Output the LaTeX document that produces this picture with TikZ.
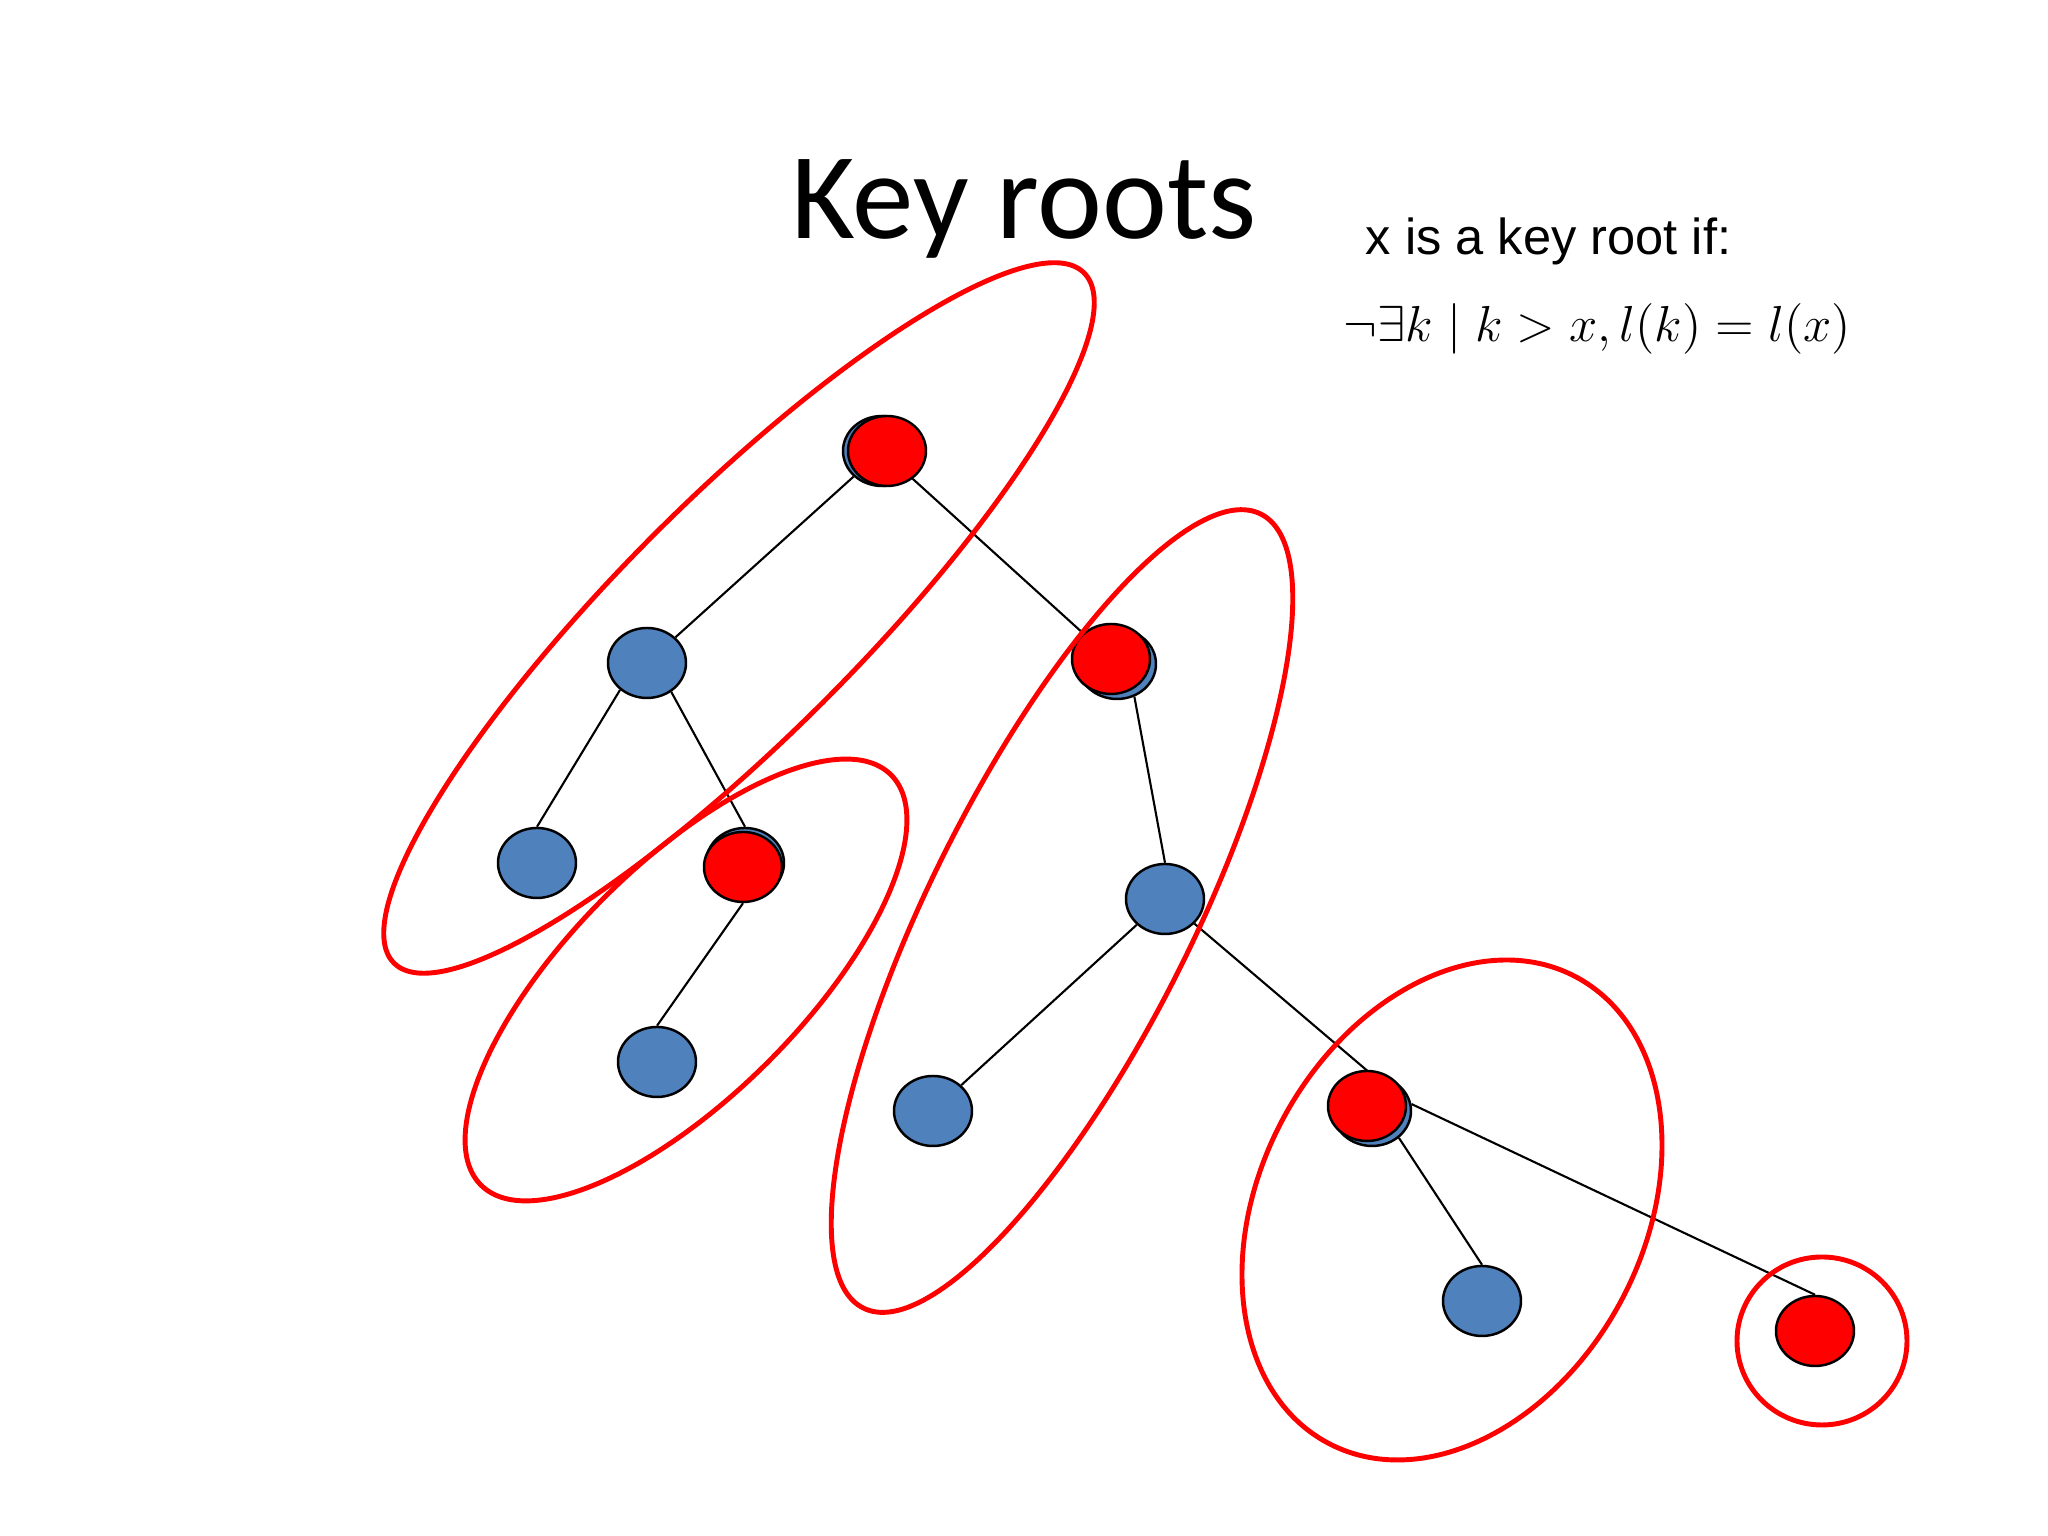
\documentclass[tikz,border=0pt]{standalone}
\usepackage{fontspec}
\newfontfamily\titlefont{Carlito}
\newfontfamily\notefont{Liberation Sans}
\usepackage{tikz}
\usetikzlibrary{shapes.geometric, backgrounds}
\definecolor{nodeblue}{RGB}{79,129,189}
\tikzset{
  bnode/.style={ellipse, draw=black, fill=nodeblue, line width=0.7pt, minimum width=0.78cm, minimum height=0.70cm, inner sep=0pt},
  rnode/.style={bnode, fill=red},
  link/.style={draw=black, line width=0.6pt},
  ring/.style={draw=red, line width=1.4pt}
}

\begin{document}
\begin{tikzpicture}
\useasboundingbox (0,0) rectangle (20.48,15.36);
\node[anchor=base] (title) at (10.24,12.97) {\titlefont\fontsize{35}{40}\selectfont Key roots};
\node[anchor=base west, inner sep=0pt] (rule) at (13.65,12.81) {\notefont\fontsize{14.4}{17}\selectfont x is a key root if:};
\node[anchor=base west, inner sep=0pt] (cond) at (13.43,11.94) {\fontsize{15.6}{18}\selectfont $\neg\exists k \mid k > x, l(k) = l(x)$};
\node[bnode] (a) at (8.82,10.85) {};
\node[rnode] (ar) at (8.87,10.85) {};
\node[bnode] (b) at (6.47,8.73) {};
\node[bnode] (c) at (5.37,6.73) {};
\node[bnode] (d) at (7.45,6.73) {};
\node[rnode] (dr) at (7.43,6.69) {};
\node[bnode] (e) at (6.57,4.74) {};
\node[bnode] (f) at (11.17,8.72) {};
\node[rnode] (fr) at (11.11,8.77) {};
\node[bnode] (g) at (11.65,6.37) {};
\node[bnode] (h) at (9.33,4.25) {};
\node[bnode] (i) at (13.72,4.25) {};
\node[rnode] (ir) at (13.67,4.30) {};
\node[bnode] (j) at (14.82,2.35) {};
\node[rnode] (k) at (18.15,2.05) {};
\begin{pgfonlayer}{background}
\draw[link] (a) -- (b);
\draw[link] (a) -- (f);
\draw[link] (b.225) -- (c.north);
\draw[link] (b.-50) -- (d.north);
\draw[link] (dr.south) -- (e.north);
\draw[link] (f.-62) -- (g.north);
\draw[link] (g) -- (h);
\draw[link] (g.-40) -- (i.north);
\draw[link] (i.-45) -- (j.north);
\draw[link] (i.10) -- (k.north);
\end{pgfonlayer}
\coordinate (c1) at (7.39,9.18);
\coordinate (c2) at (6.86,5.56);
\coordinate (c3) at (10.62,6.25);
\coordinate (c4) at (14.52,3.26);
\coordinate (c5) at (18.22,1.95);
\draw[ring, rotate around={45:(c1)}] (c1) ellipse [x radius=4.88, y radius=1.19];
\draw[ring, rotate around={45:(c2)}] (c2) ellipse [x radius=2.90, y radius=1.16];
\draw[ring, rotate around={63.4:(c3)}] (c3) ellipse [x radius=4.44, y radius=1.31];
\draw[ring, rotate around={62:(c4)}] (c4) ellipse [x radius=2.64, y radius=1.92];
\draw[ring] (c5) ellipse [x radius=0.85, y radius=0.84];
\end{tikzpicture}
\end{document}
